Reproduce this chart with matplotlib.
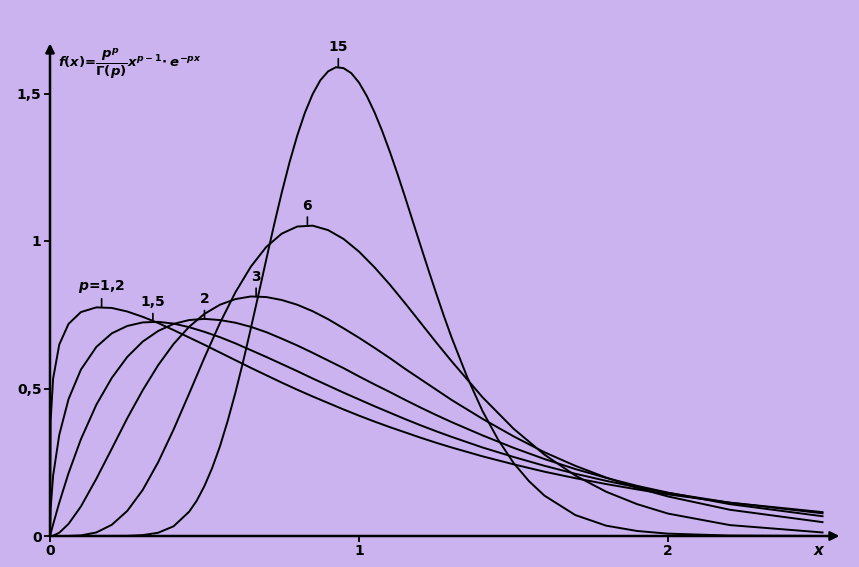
import numpy as np
import matplotlib.pyplot as plt

plt.rcParams['font.family'] = 'DejaVu Sans'
plt.rcParams['font.weight'] = 'bold'
plt.rcParams['mathtext.fontset'] = 'custom'
plt.rcParams['mathtext.rm'] = 'DejaVu Sans:bold'
plt.rcParams['mathtext.it'] = 'DejaVu Sans:bold:italic'

# values, shared x grid
x_vals = [0, 0.002, 0.01, 0.03, 0.06, 0.1, 0.15, 0.2, 0.25, 0.3, 0.35, 0.4, 0.45,
          0.5, 0.55, 0.6, 0.65, 0.7, 0.75, 0.8, 0.85, 0.9, 0.95, 1.0, 1.05, 1.1,
          1.15, 1.2, 1.25, 1.3, 1.4, 1.5, 1.6, 1.7, 1.8, 1.9, 2.0, 2.2, 2.5]

f_p12 = [0, 0.390, 0.533, 0.649, 0.719, 0.759, 0.775, 0.773, 0.761, 0.743, 0.722,
         0.698, 0.673, 0.648, 0.622, 0.596, 0.570, 0.545, 0.520, 0.496, 0.473,
         0.451, 0.429, 0.408, 0.388, 0.369, 0.351, 0.333, 0.316, 0.300, 0.270,
         0.243, 0.218, 0.196, 0.176, 0.158, 0.141, 0.113, 0.081]
f_p15 = [0, 0.092, 0.204, 0.343, 0.464, 0.564, 0.641, 0.687, 0.712, 0.724, 0.726,
         0.720, 0.708, 0.692, 0.674, 0.653, 0.630, 0.607, 0.583, 0.559, 0.534,
         0.510, 0.486, 0.463, 0.440, 0.418, 0.396, 0.375, 0.355, 0.336, 0.300,
         0.268, 0.238, 0.211, 0.187, 0.165, 0.146, 0.113, 0.077]
f_p2 = [0, 0.008, 0.039, 0.113, 0.213, 0.328, 0.445, 0.536, 0.607, 0.659, 0.695,
        0.719, 0.732, 0.736, 0.732, 0.723, 0.709, 0.691, 0.669, 0.646, 0.621,
        0.595, 0.569, 0.541, 0.514, 0.488, 0.461, 0.435, 0.410, 0.386, 0.341,
        0.299, 0.261, 0.227, 0.197, 0.170, 0.147, 0.108, 0.067]
f_p3 = [0, 0.0001, 0.001, 0.011, 0.041, 0.100, 0.194, 0.296, 0.399, 0.494, 0.579,
        0.651, 0.709, 0.753, 0.784, 0.803, 0.812, 0.810, 0.800, 0.784, 0.762,
        0.735, 0.704, 0.672, 0.638, 0.603, 0.566, 0.531, 0.496, 0.461, 0.397,
        0.338, 0.284, 0.238, 0.198, 0.163, 0.134, 0.089, 0.047]
f_p6 = [0, 0, 0, 0, 0.0002, 0.002, 0.012, 0.038, 0.085, 0.156, 0.250, 0.361,
        0.482, 0.605, 0.722, 0.826, 0.913, 0.980, 1.025, 1.049, 1.052, 1.037,
        1.007, 0.964, 0.911, 0.852, 0.788, 0.722, 0.656, 0.592, 0.470, 0.364,
        0.276, 0.205, 0.150, 0.108, 0.076, 0.037, 0.012]

# the narrow p=15 curve is read on a finer grid of its own
x_p15b = [0, 0.25, 0.3, 0.35, 0.4, 0.45, 0.475, 0.5, 0.525, 0.55, 0.575, 0.6,
          0.625, 0.65, 0.675, 0.7, 0.725, 0.75, 0.775, 0.8, 0.825, 0.85, 0.875,
          0.9, 0.925, 0.95, 0.975, 1.0, 1.025, 1.05, 1.075, 1.1, 1.125, 1.15,
          1.175, 1.2, 1.225, 1.25, 1.275, 1.3, 1.35, 1.4, 1.45, 1.5, 1.55, 1.6,
          1.7, 1.8, 1.9, 2.0, 2.2, 2.5]
f_p15b = [0, 0.0004, 0.003, 0.011, 0.033, 0.082, 0.120, 0.170, 0.231, 0.304,
          0.390, 0.486, 0.591, 0.704, 0.820, 0.938, 1.054, 1.164, 1.266, 1.357,
          1.435, 1.498, 1.545, 1.575, 1.589, 1.586, 1.569, 1.537, 1.492, 1.437,
          1.373, 1.302, 1.226, 1.146, 1.064, 0.982, 0.901, 0.822, 0.745, 0.672,
          0.539, 0.423, 0.327, 0.248, 0.186, 0.137, 0.071, 0.035, 0.017, 0.008,
          0.0015, 0.0001]

curves = [(x_vals, f_p12), (x_vals, f_p15), (x_vals, f_p2), (x_vals, f_p3),
          (x_vals, f_p6), (x_p15b, f_p15b)]
curve_labels = ['$p$=1,2', '1,5', '2', '3', '6', '15']
peak_x = [0.167, 0.333, 0.5, 0.667, 0.833, 0.933]
peak_y = [0.776, 0.726, 0.736, 0.812, 1.053, 1.59]

xticks = [0, 1, 2]
xtick_labels = ['0', '1', '2']
yticks = [0, 0.5, 1, 1.5]
ytick_labels = ['0', '0,5', '1', '1,5']

bg = '#cbb3ef'

fig = plt.figure(figsize=(8.59, 5.67), dpi=100)
fig.patch.set_facecolor(bg)
ax = fig.add_axes([50 / 859, 31 / 567, 2.6 * 309 / 859, 1.75 * 295 / 567])
ax.set_facecolor(bg)
ax.set_xlim(0, 2.6)
ax.set_ylim(0, 1.75)

for xs, ys in curves:
    ax.plot(xs, ys, color='black', lw=1.4, clip_on=False,
            solid_joinstyle='round')

for lab, px, py in zip(curve_labels, peak_x, peak_y):
    ax.annotate(lab, xy=(px, py), xytext=(0, 9), textcoords='offset points',
                ha='center', va='bottom', fontsize=10, fontweight='bold',
                arrowprops=dict(arrowstyle='-', lw=1.2, color='black',
                                shrinkA=1, shrinkB=0))

# axes drawn as arrows
for s in ax.spines.values():
    s.set_visible(False)
ax.annotate('', xy=(2.555, 0), xytext=(0, 0),
            arrowprops=dict(arrowstyle='-|>', lw=1.8, color='black',
                            mutation_scale=13, shrinkA=0, shrinkB=0))
ax.annotate('', xy=(0, 1.67), xytext=(0, 0),
            arrowprops=dict(arrowstyle='-|>', lw=1.8, color='black',
                            mutation_scale=13, shrinkA=0, shrinkB=0))

ax.set_xticks(xticks)
ax.set_xticklabels(xtick_labels, fontsize=10, fontweight='bold')
ax.set_yticks(yticks)
ax.set_yticklabels(ytick_labels, fontsize=10, fontweight='bold')
ax.tick_params(direction='out', length=4.5, width=1.3, pad=1.5)

ax.text(2.49, -0.025, '$x$', fontsize=11, ha='center', va='top')
ax.text(0.025, 1.60,
        r'$f(x)$=$\dfrac{p^p}{\Gamma(p)}x^{p-1}\!\cdot e^{-px}$',
        fontsize=9.5, ha='left', va='center')

plt.savefig('out.png', dpi=100, facecolor=bg)
